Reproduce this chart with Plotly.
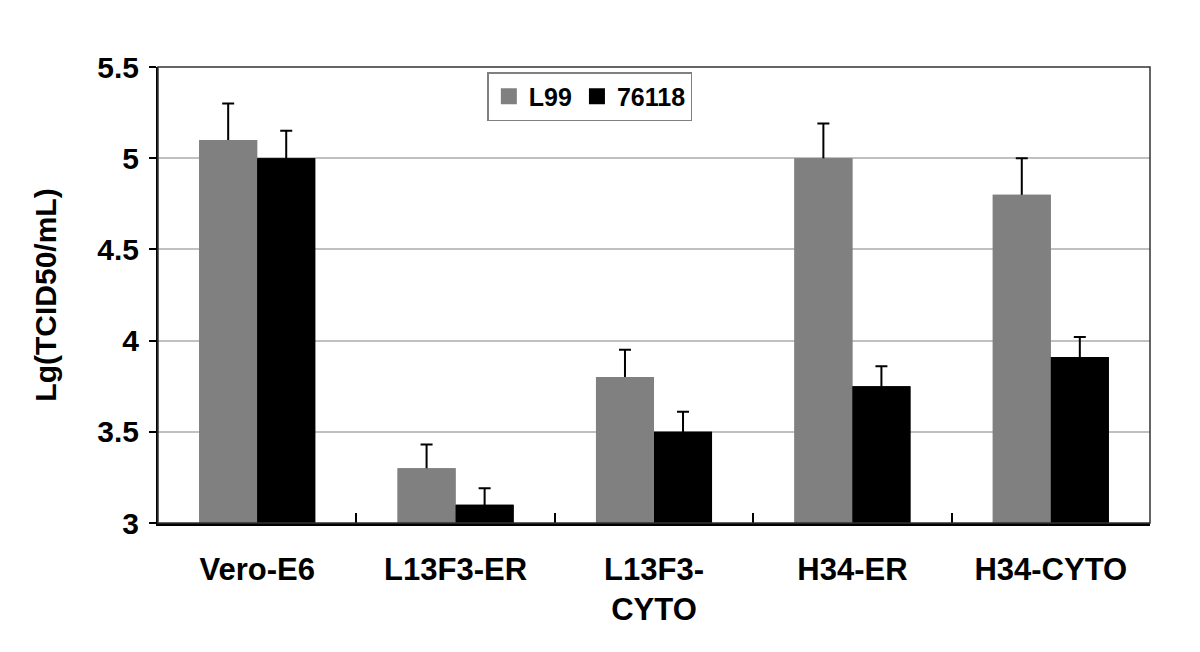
import plotly.graph_objects as go

categories = ["Vero-E6", "L13F3-ER", "L13F3-<br>CYTO", "H34-ER", "H34-CYTO"]
l99 = [5.10, 3.30, 3.80, 5.00, 4.80]
l99_err = [0.20, 0.13, 0.15, 0.19, 0.20]
s76118 = [5.00, 3.10, 3.50, 3.75, 3.91]
s76118_err = [0.15, 0.09, 0.11, 0.11, 0.11]

font_family = "Arial, Liberation Sans, sans-serif"
colors = {"L99": "#808080", "76118": "#000000"}

fig = go.Figure()
# bars carrying the error bars (lower half hidden by the overlay bars)
for name, vals, errs in [("L99", l99, l99_err), ("76118", s76118, s76118_err)]:
    fig.add_trace(go.Bar(
        x=categories, y=vals, name=name, marker=dict(color=colors[name], line=dict(width=0)),
        error_y=dict(type="data", array=errs, symmetric=True, color="black", thickness=2, width=6),
        xaxis="x", yaxis="y", showlegend=False,
    ))
# overlay bars drawn on top to hide the lower half of the error bars
for name, vals in [("L99", l99), ("76118", s76118)]:
    fig.add_trace(go.Bar(
        x=categories, y=vals, name=name, marker=dict(color=colors[name], line=dict(width=0)),
        xaxis="x2", yaxis="y2", showlegend=False, hoverinfo="skip",
    ))
# legend entries with larger square swatches
for name in ["L99", "76118"]:
    fig.add_trace(go.Scatter(
        x=[None], y=[None], mode="markers", name=name,
        marker=dict(symbol="square", size=16, color=colors[name]),
        showlegend=True, hoverinfo="skip",
    ))

W, H = 1192, 644
fig.update_layout(
    width=W, height=H,
    margin=dict(l=150, r=50, t=59, b=129),
    paper_bgcolor="white", plot_bgcolor="white",
    barmode="group", bargap=0.415, bargroupgap=0,
    font=dict(family=font_family, size=20, color="black"),
    showlegend=True,
    legend=dict(
        orientation="h", x=0.332, y=0.989, xanchor="left", yanchor="top",
        bordercolor="#808080", borderwidth=1.5, bgcolor="white",
        font=dict(family=font_family, size=25, color="black", weight="bold"),
        itemwidth=30, tracegroupgap=0,
    ),
    xaxis=dict(
        showline=True, linecolor="black", linewidth=2.5,
        ticks="inside", ticklen=10, tickwidth=2, tickcolor="black", tickson="boundaries",
        showgrid=False, ticklabelstandoff=17,
        tickfont=dict(family=font_family, size=31, color="black", weight="bold"),
    ),
    yaxis=dict(
        range=[3, 5.5], dtick=0.5, tick0=3,
        showline=True, linecolor="black", linewidth=2,
        ticks="outside", ticklen=7, tickwidth=2, tickcolor="black",
        showgrid=True, gridcolor="#c0c0c0", gridwidth=1.5,
        ticklabelstandoff=4,
        tickfont=dict(family=font_family, size=30, color="black", weight="bold"),
        title=dict(text="Lg(TCID50/mL)", standoff=32,
                   font=dict(family=font_family, size=30, color="black", weight="bold")),
        zeroline=False,
    ),
    xaxis2=dict(overlaying="x", matches="x", visible=False, showgrid=False),
    yaxis2=dict(overlaying="y", range=[3, 5.5], visible=False, showgrid=False, zeroline=False),
    shapes=[dict(type="rect", xref="paper", yref="paper", x0=0, x1=1, y0=0, y1=1,
                 line=dict(color="#333333", width=1.5), layer="above")],
)

fig.write_html("out.html")
